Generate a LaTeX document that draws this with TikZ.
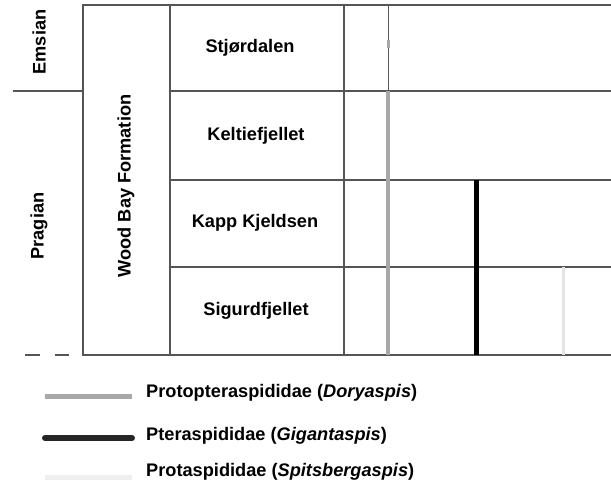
\documentclass[tikz,border=0pt]{standalone}
\usepackage{fontspec}
\setmainfont{Liberation Sans}
\definecolor{frame}{HTML}{555555}
\definecolor{dorygray}{HTML}{A8A8A8}
\definecolor{spitgray}{HTML}{E4E4E4}
\begin{document}
\begin{tikzpicture}[x=1pt,y=-1pt,
  frameline/.style={draw=frame,line width=2pt},
  lbl/.style={font=\fontsize{18.2}{20}\selectfont\bfseries,inner sep=0pt},
  rlbl/.style={lbl,rotate=90},
  dory/.style={draw=dorygray,line width=4pt},
  giga/.style={draw=black,line width=5pt},
  spit/.style={draw=spitgray,line width=3pt}]
\useasboundingbox[fill=white] (0,0) rectangle (611,483);
% coordinates of the frame
\coordinate (tl) at (83,5);
\coordinate (tr) at (611,5);
\coordinate (bl) at (83,355);
\coordinate (br) at (611,355);
% frame
\draw[frameline] (tr) -- (tl) -- (bl) -- (br);
\draw[frameline] (170,5) -- (170,355);
\draw[frameline] (344,5) -- (344,355);
\draw[frameline] (13,91) -- (83,91);
\draw[frameline] (170,91) -- (611,91);
\draw[frameline] (170,180) -- (611,180);
\draw[frameline] (170,267) -- (611,267);
\draw[frameline] (25,355) -- (40,355);
\draw[frameline] (55,355) -- (69,355);
% labels
\node[rlbl] (ems) at (39,42) {Emsian};
\node[rlbl] (pra) at (39,226) {Pragian};
\node[rlbl] (wbf) at (126,186) {Wood Bay Formation};
\node[lbl,anchor=base] (s1) at (250,52) {Stjørdalen};
\node[lbl,anchor=base] (s2) at (256,140) {Keltiefjellet};
\node[lbl,anchor=base] (s3) at (255,227) {Kapp Kjeldsen};
\node[lbl,anchor=base] (s4) at (256,315) {Sigurdfjellet};
% ranges
\coordinate (d0) at (388,5);
\coordinate (d1) at (388,91);
\coordinate (d2) at (388,355);
\draw[draw=frame,line width=1pt] (d0) -- (d1);
\draw[draw=dorygray,line width=3pt] (388,40) -- (388,48);
\draw[dory] (d1) -- (d2);
\coordinate (g1) at (476,180);
\coordinate (g2) at (476,355);
\draw[giga] (g1) -- (g2);
\coordinate (p1) at (563,267);
\coordinate (p2) at (563,355);
\draw[spit] (p1) -- (p2);
% legend
\coordinate (l1a) at (45,396);
\coordinate (l1b) at (132,396);
\coordinate (l2a) at (45,438);
\coordinate (l2b) at (132,438);
\coordinate (l3a) at (45,477);
\coordinate (l3b) at (132,477);
\draw[draw=dorygray,line width=5pt] (l1a) -- (l1b);
\draw[draw=black!85,line width=6pt,line cap=round] (l2a) -- (l2b);
\draw[draw=spitgray!60,line width=5pt] (l3a) -- (l3b);
\node[lbl,anchor=base west] (t1) at (146,397) {Protopteraspididae (\textit{Doryaspis})};
\node[lbl,anchor=base west] (t2) at (146,440) {Pteraspididae (\textit{Gigantaspis})};
\node[lbl,anchor=base west] (t3) at (146,476) {Protaspididae (\textit{Spitsbergaspis})};
\end{tikzpicture}
\end{document}
